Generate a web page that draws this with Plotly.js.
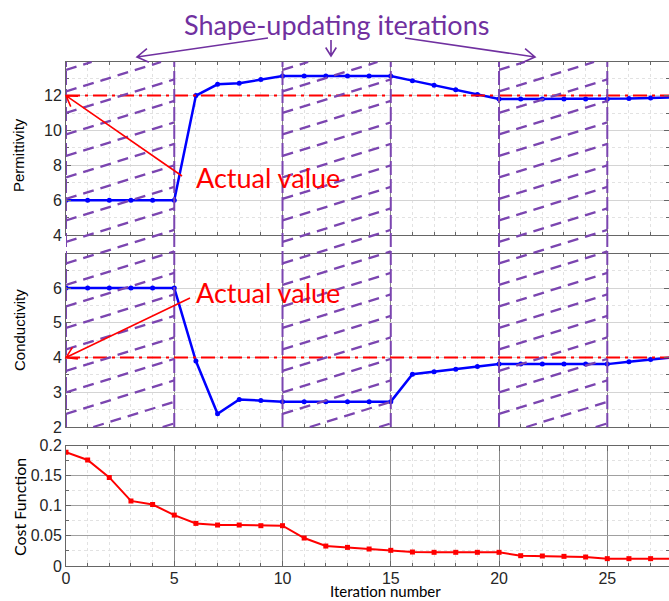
<!DOCTYPE html>
<html>
<head>
<meta charset="utf-8">
<script src="https://cdn.plot.ly/plotly-3.0.1.min.js"></script>
<style>html,body{margin:0;padding:0;background:#fff;}#chart{width:669px;height:601px;}</style>
</head>
<body>
<div id="chart"></div>
<script>
// ---------------- data ----------------
const iterations = [0,1,2,3,4,5,6,7,8,9,10,11,12,13,14,15,16,17,18,19,20,21,22,23,24,25,26,27,28];
const permittivity = [6,6,6,6,6,6,12,12.65,12.71,12.92,13.13,13.13,13.13,13.13,13.13,13.13,12.86,12.6,12.34,12.07,11.81,11.81,11.81,11.81,11.81,11.81,11.83,11.87,11.9];
const conductivity = [6,6,6,6,6,6,3.9,2.38,2.79,2.76,2.73,2.73,2.73,2.73,2.73,2.73,3.52,3.59,3.66,3.74,3.81,3.81,3.81,3.81,3.81,3.81,3.88,3.94,4.0];
const costFunction = [0.189,0.176,0.147,0.108,0.102,0.0845,0.0707,0.068,0.068,0.0669,0.0669,0.0464,0.0331,0.0309,0.0282,0.026,0.0232,0.0227,0.0227,0.0227,0.0227,0.0171,0.0166,0.016,0.0149,0.0122,0.0122,0.0122,0.0122];
const actualPermittivity = 12;
const actualConductivity = 4;
const shapeUpdateStarts = [0, 10, 20];
const shapeUpdateLength = 5;
const xTicks = [0,5,10,15,20,25];
const permTicks = [4,6,8,10,12];
const condTicks = [2,3,4,5,6];
const costTicks = [0,0.05,0.1,0.15,0.2];
const titleText = 'Shape-updating iterations';
const actualLabel = 'Actual value';

// ---------------- geometry ----------------
const W = 669, H = 601, ML = 66;
const PW = W - ML;
const xRange = [0, 27.85];
const permRange = [4, 13.93];
const condRange = [2, 6.98];
const costRange = [0, 0.2];
const dTop = [1-235/H, 1-62/H];
const dMid = [1-427/H, 1-254/H];
const dBot = [1-566/H, 1-445.5/H];

function pxX(xv){ return ML + (xv - xRange[0])/(xRange[1]-xRange[0])*PW; }
function pxY(yv, range, dom){
  const y0 = H*(1-dom[0]), y1 = H*(1-dom[1]);
  return y0 + (yv-range[0])/(range[1]-range[0])*(y1-y0);
}
function toPX(px){ return (px-ML)/PW; }
function toPY(py){ return (H-py)/H; }

const purple = '#7030A0';
const hatchColor = '#7B45B0';
const gridMajor = '#8a8a8a';
const gridMinor = '#e2e2e2';
const axisLine = '#666666';
const tickFont = {family:'Liberation Sans, Arial, sans-serif', size:16, color:'#262626'};

// ---------------- traces ----------------
const blueLine = {color:'#0000FF', width:2.5};
const blueMarker = {color:'#0000FF', size:5, symbol:'circle'};
const dashDot = '14px,5px,3px,5px';
const traces = [
  {x:iterations, y:permittivity, xaxis:'x', yaxis:'y', mode:'lines+markers', line:blueLine, marker:blueMarker, hoverinfo:'skip'},
  {x:[iterations[0], iterations[iterations.length-1]], y:[actualPermittivity, actualPermittivity], xaxis:'x', yaxis:'y', mode:'lines', line:{color:'#FF0000', width:2, dash:dashDot}, hoverinfo:'skip'},
  {x:iterations, y:conductivity, xaxis:'x2', yaxis:'y2', mode:'lines+markers', line:blueLine, marker:blueMarker, hoverinfo:'skip'},
  {x:[iterations[0], iterations[iterations.length-1]], y:[actualConductivity, actualConductivity], xaxis:'x2', yaxis:'y2', mode:'lines', line:{color:'#FF0000', width:2, dash:dashDot}, hoverinfo:'skip'},
  {x:iterations, y:costFunction, xaxis:'x3', yaxis:'y3', mode:'lines+markers', line:{color:'#FF0000', width:2}, marker:{color:'#FF0000', size:5, symbol:'square'}, hoverinfo:'skip'}
];

// ---------------- shapes (hatching + arrows) ----------------
const shapes = [];
const hatchTop = toPY(62), hatchBot = toPY(427);
const slope = 0.31 * (PW/(xRange[1]-xRange[0])) / H; // paper units per data unit
const spacing = 21.5 / H;
shapeUpdateStarts.forEach(a => {
  const b = a + shapeUpdateLength;
  for (let y0 = hatchBot - slope*shapeUpdateLength + 0.006; y0 < hatchTop; y0 += spacing) {
    let xs = a, xe = b;
    if (y0 < hatchBot) xs = a + (hatchBot - y0)/slope;
    if (y0 + slope*shapeUpdateLength > hatchTop) xe = a + (hatchTop - y0)/slope;
    if (xe - xs < 0.05) continue;
    shapes.push({type:'line', xref:'x', yref:'paper', x0:xs, x1:xe, y0:y0 + slope*(xs-a), y1:y0 + slope*(xe-a),
      line:{color:hatchColor, width:2.3, dash:'11px,7px'}, layer:'above'});
  }
  [a, b].forEach(xv => {
    shapes.push({type:'line', xref:'x', yref:'paper', x0:xv, x1:xv, y0:hatchBot, y1:hatchTop,
      line:{color:hatchColor, width:2, dash:'14px,4px'}, layer:'above'});
  });
});

function arrowPath(x0,y0,x1,y1,head,angDeg){
  const dx = x0-x1, dy = y0-y1, L = Math.hypot(dx,dy);
  const ux = dx/L, uy = dy/L, a = angDeg*Math.PI/180;
  const h1x = x1 + head*(ux*Math.cos(a) - uy*Math.sin(a));
  const h1y = y1 + head*(ux*Math.sin(a) + uy*Math.cos(a));
  const h2x = x1 + head*(ux*Math.cos(-a) - uy*Math.sin(-a));
  const h2y = y1 + head*(ux*Math.sin(-a) + uy*Math.cos(-a));
  const P = (x,y) => toPX(x).toFixed(5)+','+toPY(y).toFixed(5);
  return 'M'+P(x0,y0)+' L'+P(x1,y1)+' M'+P(h1x,h1y)+' L'+P(x1,y1)+' L'+P(h2x,h2y);
}
function addArrow(x0,y0,x1,y1,color,width,head){
  shapes.push({type:'path', xref:'paper', yref:'paper', path:arrowPath(x0,y0,x1,y1,head,32), line:{color:color, width:width}, layer:'above'});
}
// title arrows
addArrow(268,38,137,57,purple,1.6,13);
addArrow(331,40,331,56,purple,1.6,10);
addArrow(405,38,535,57,purple,1.6,13);
// actual value arrows
addArrow(182,176, pxX(0), pxY(actualPermittivity, permRange, dTop), '#FF0000', 1.6, 12);
addArrow(190,298, pxX(0), pxY(actualConductivity, condRange, dMid), '#FF0000', 1.6, 12);

// ---------------- annotations ----------------
const calibriLike = 'Lato, "Open Sans", sans-serif';
const annotations = [
  {text:titleText, xref:'paper', yref:'paper', x:toPX(336), y:toPY(25), xanchor:'center', yanchor:'middle', showarrow:false, font:{family:calibriLike, size:27, color:purple}},
  {text:actualLabel, xref:'paper', yref:'paper', x:toPX(194), y:toPY(178), xanchor:'left', yanchor:'middle', showarrow:false, font:{family:calibriLike, size:27, color:'#FF0000'}},
  {text:actualLabel, xref:'paper', yref:'paper', x:toPX(194), y:toPY(292), xanchor:'left', yanchor:'middle', showarrow:false, font:{family:calibriLike, size:27, color:'#FF0000'}},
  {text:'Permittivity', xref:'paper', yref:'paper', x:toPX(18), y:toPY(155), xanchor:'center', yanchor:'middle', textangle:-90, showarrow:false, font:{family:'Liberation Sans, Arial, sans-serif', size:15, color:'#000'}},
  {text:'Conductivity', xref:'paper', yref:'paper', x:toPX(19), y:toPY(330), xanchor:'center', yanchor:'middle', textangle:-90, showarrow:false, font:{family:'Liberation Sans, Arial, sans-serif', size:15, color:'#000'}},
  {text:'Cost Function', xref:'paper', yref:'paper', x:toPX(19), y:toPY(507), xanchor:'center', yanchor:'middle', textangle:-90, showarrow:false, font:{family:calibriLike, size:16, color:'#000'}},
  {text:'Iteration number', xref:'paper', yref:'paper', x:toPX(385), y:0, xanchor:'center', yanchor:'bottom', borderpad:0, showarrow:false, font:{family:calibriLike, size:15, color:'#000'}}
];

// ---------------- axes ----------------
function xAxis(anchor, showLabels){
  return {anchor:anchor, range:xRange, tickvals:xTicks, ticktext:xTicks.map(String), showticklabels:showLabels,
    ticks:'inside', ticklen:5, tickcolor:axisLine, mirror:'allticks', showline:true, linecolor:axisLine, linewidth:1,
    showgrid:true, gridcolor:gridMajor, gridwidth:1, zeroline:false, tickfont:tickFont, automargin:false, fixedrange:true,
    minor:{dtick:1, tick0:0, ticks:'inside', ticklen:3, tickcolor:axisLine, showgrid:true, gridcolor:gridMinor, griddash:'dot'}};
}
function yAxis(dom, range, ticks, gc, minorD, anchor){
  return {domain:dom, range:range, tickvals:ticks, ticktext:ticks.map(String), anchor:anchor,
    ticks:'inside', ticklen:5, tickcolor:axisLine, mirror:'allticks', showline:true, linecolor:axisLine, linewidth:1,
    showgrid:true, gridcolor:gc, gridwidth:1, zeroline:false, tickfont:tickFont, automargin:false, fixedrange:true,
    minor:{dtick:minorD, ticks:'inside', ticklen:3, tickcolor:axisLine, showgrid:true, gridcolor:gridMinor, griddash:'dot'}};
}

const layout = {
  width:W, height:H, margin:{l:ML, r:0, t:0, b:0, pad:0},
  paper_bgcolor:'#ffffff', plot_bgcolor:'rgba(0,0,0,0)', showlegend:false,
  xaxis: xAxis('y', false),
  xaxis2: xAxis('y2', false),
  xaxis3: Object.assign(xAxis('y3', true), {ticklabelstandoff:-2}),
  yaxis: yAxis(dTop, permRange, permTicks, '#d4d4d4', 1, 'x'),
  yaxis2: yAxis(dMid, condRange, condTicks, '#d4d4d4', 0.5, 'x2'),
  yaxis3: yAxis(dBot, costRange, costTicks, '#a0a0a0', 0.025, 'x3'),
  shapes:shapes, annotations:annotations
};

Plotly.newPlot('chart', traces, layout, {staticPlot:true, displayModeBar:false});
</script>
</body>
</html>
